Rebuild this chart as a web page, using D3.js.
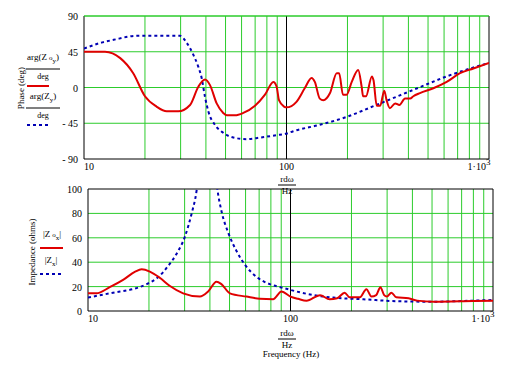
<!DOCTYPE html>
<html>
<head>
<meta charset="utf-8">
<script src="https://cdn.jsdelivr.net/npm/d3@7"></script>
<style>
  body { margin: 0; background: #fff; }
  svg { display: block; }
  text { font-family: "Liberation Serif", "Times New Roman", serif; fill: #000; }
</style>
</head>
<body>
<svg id="chart"></svg>
<script>
// chart data
var zoy_freq = [10, 12.7, 15.1, 17.5, 20, 22.8, 25.6, 29.2, 33.4, 36.7, 39.6, 41.9, 45.2, 48.7, 50.7, 55.7,
  61.2, 69.9, 78.3, 86.1, 89.4, 91.8, 97.2, 100, 112, 123, 133, 138, 146, 152, 164, 177, 182, 190, 198,
  210, 226, 235, 239, 247, 264, 269, 279, 290, 304, 312, 324, 344, 361, 385, 408, 423, 456, 531, 618,
  719, 837, 1000];
var zoy_phase = [45, 45, 37, 18, -11, -24, -30, -30, -22, 1, 10, 3, -20, -32, -35, -35,
  -32, -23, -9, 7, 1, -16, -24, -25, -18, -1, 12, 7, -14, -16, -7, 18, 18, -9, -9,
  7, 22, 1, -11, -11, 14, 9, -23, -23, -4, -16, -26, -20, -22, -14, -14, -11, -7, -1, 7,
  18, 24, 31];

var zy_freq = [10, 12, 14, 18.2, 29.8, 32.2, 34.7, 36.7, 38.1, 39.6, 41.1, 44.3, 48.7, 54.6, 63.6,
  74.2, 89.4, 100, 108, 146, 198, 290, 423, 618, 1000];
var zy_phase = [49, 56, 60, 65, 65, 56, 41, 26, 12, -12, -30, -47, -57, -63, -65,
  -63, -60, -58, -55, -47, -37, -20, -3, 14, 31];

var zox_freq = [10, 11, 12.8, 14.9, 17.1, 18.4, 20.2, 22.7, 25.4, 29.5, 35.7, 39.2, 43.1, 45.6, 50.2,
  60.6, 70.5, 82, 90.3, 100, 109, 120, 140, 156, 170, 185, 196, 220, 237, 251, 265, 278, 290, 299,
  315, 333, 383, 422, 509, 795, 1000];
var zox_mag = [14.5, 14.5, 19.5, 25.5, 32.3, 34.2, 32.3, 27, 20.5, 14.5, 11.8, 16, 24, 22, 14.5,
  11.8, 10, 9.7, 16, 11.8, 10, 8.5, 13, 9.6, 10.4, 15, 11.2, 11.2, 17.8, 11.8, 13, 19.5, 13, 11.8,
  15, 11.2, 10.4, 8.5, 7.6, 8.2, 8.5];

var zx_freq = [10, 13.3, 16.7, 19.5, 22.3, 24.9, 27.4, 30.1, 32.5, 34.4, 36.5, 38.5, 41, 43.6, 45.6,
  49.3, 54.2, 59.5, 67.9, 79, 91.9, 107, 130, 163, 229, 334, 509, 795, 1000];
var zx_mag = [11, 15, 18, 22, 28, 37, 47, 61, 80, 99, 140, 180, 140, 99, 82,
  64, 49, 38, 28, 22, 19, 16, 13, 11, 9.6, 8, 7.6, 8.5, 9];

var phase_ticks = [90, 45, 0, -45, -90];
var imp_ticks = [100, 80, 60, 40, 20, 0];
var freq_grid = [20, 30, 40, 50, 60, 70, 80, 90, 200, 300, 400, 500, 600, 700, 800, 900];

var red = '#e00000', blue = '#0000b4', green = '#2ccc2c';

var svg = d3.select('#chart').attr('width', 512).attr('height', 384);

// ---------- top panel: phase ----------
var x_top = d3.scaleLog().domain([10, 1000]).range([84, 489]);
var y_top = d3.scaleLinear().domain([-90, 90]).range([159, 16]);

// ---------- bottom panel: impedance ----------
var x_bot = d3.scaleLog().domain([10, 1000]).range([88, 493]);
var y_bot = d3.scaleLinear().domain([0, 100]).range([311, 189]);

function draw_panel(x, y, h_grid, y_ticks, id, top_green) {
  var g = svg.append('g');
  var x0 = x.range()[0], x1 = x.range()[1], y0 = y.range()[0], y1 = y.range()[1];

  g.selectAll('.vg').data(freq_grid).enter().append('line')
    .attr('x1', function(d) { return x(d); }).attr('x2', function(d) { return x(d); })
    .attr('y1', y0).attr('y2', y1)
    .attr('stroke', green).attr('stroke-width', 1);
  g.selectAll('.hg').data(h_grid).enter().append('line')
    .attr('x1', x0).attr('x2', x1)
    .attr('y1', function(d) { return y(d); }).attr('y2', function(d) { return y(d); })
    .attr('stroke', green).attr('stroke-width', 1);

  // marker at 100 Hz
  g.append('line').attr('x1', x(100)).attr('x2', x(100)).attr('y1', y0).attr('y2', y1)
    .attr('stroke', '#000').attr('stroke-width', 1);

  // frame
  g.append('line').attr('x1', x0).attr('x2', x0).attr('y1', y0).attr('y2', y1).attr('stroke', '#000');
  g.append('line').attr('x1', x1).attr('x2', x1).attr('y1', y0).attr('y2', y1).attr('stroke', '#000');
  g.append('line').attr('x1', x0).attr('x2', x1).attr('y1', y0).attr('y2', y0).attr('stroke', '#000');
  g.append('line').attr('x1', x0).attr('x2', x1).attr('y1', y1).attr('y2', y1)
    .attr('stroke', top_green ? green : '#000');

  // y tick labels
  g.selectAll('.yt').data(y_ticks).enter().append('text')
    .attr('x', x0 - 6).attr('y', function(d) { return y(d) + 4; })
    .attr('text-anchor', 'end').attr('font-size', 10)
    .text(function(d) { return d < 0 ? '- ' + (-d) : d; });

  // x tick labels
  g.append('text').attr('x', x(10) + 5).attr('y', y0 + 11).attr('text-anchor', 'middle')
    .attr('font-size', 10).text('10');
  g.append('text').attr('x', x(100)).attr('y', y0 + 11).attr('text-anchor', 'middle')
    .attr('font-size', 10).text('100');
  var t = g.append('text').attr('x', x(1000) - 10).attr('y', y0 + 11).attr('text-anchor', 'middle')
    .attr('font-size', 10);
  t.append('tspan').text('1\u00b710');
  t.append('tspan').attr('dy', -5).attr('font-size', 9).text('3');

  // clip
  svg.append('clipPath').attr('id', id).append('rect')
    .attr('x', x0).attr('y', y1).attr('width', x1 - x0).attr('height', y0 - y1);
  return g;
}

var top_g = draw_panel(x_top, y_top, [90, 45, 0, -45], phase_ticks, 'clip-top', true);
var bot_g = draw_panel(x_bot, y_bot, [20, 40, 60, 80], imp_ticks, 'clip-bot', false);

function add_curve(g, x, y, fx, fy, color, dashed, clip) {
  var line = d3.line()
    .x(function(d) { return x(d[0]); })
    .y(function(d) { return y(d[1]); })
    .curve(d3.curveMonotoneX);
  var pts = d3.zip(fx, fy);
  g.append('path').datum(pts)
    .attr('d', line)
    .attr('fill', 'none')
    .attr('stroke', color)
    .attr('stroke-width', 2)
    .attr('stroke-dasharray', dashed ? '3,3' : null)
    .attr('clip-path', 'url(#' + clip + ')');
}

add_curve(top_g, x_top, y_top, zy_freq, zy_phase, blue, true, 'clip-top');
add_curve(top_g, x_top, y_top, zoy_freq, zoy_phase, red, false, 'clip-top');
add_curve(bot_g, x_bot, y_bot, zx_freq, zx_mag, blue, true, 'clip-bot');
add_curve(bot_g, x_bot, y_bot, zox_freq, zox_mag, red, false, 'clip-bot');

// ---------- axis labels ----------
function freq_label(cx, y_top_text) {
  svg.append('text').attr('x', cx).attr('y', y_top_text).attr('text-anchor', 'middle')
    .attr('font-size', 9).text('rd\u03c9');
  svg.append('line').attr('x1', cx - 9).attr('x2', cx + 9)
    .attr('y1', y_top_text + 3).attr('y2', y_top_text + 3).attr('stroke', '#000');
  svg.append('text').attr('x', cx).attr('y', y_top_text + 12).attr('text-anchor', 'middle')
    .attr('font-size', 9).text('Hz');
}
freq_label(287, 182);
freq_label(287, 336);
svg.append('text').attr('x', 291).attr('y', 357).attr('text-anchor', 'middle')
  .attr('font-size', 9).text('Frequency (Hz)');

svg.append('text').attr('transform', 'translate(24,88) rotate(-90)')
  .attr('text-anchor', 'middle').attr('font-size', 9).text('Phase (deg)');
svg.append('text').attr('transform', 'translate(35,252) rotate(-90)')
  .attr('text-anchor', 'middle').attr('font-size', 9).text('Impedance (ohms)');

// legend, top
function arg_label(cx, y, sub_o) {
  var t = svg.append('text').attr('x', cx).attr('y', y).attr('text-anchor', 'middle').attr('font-size', 9);
  t.append('tspan').text('arg(Z');
  if (sub_o) t.append('tspan').attr('font-size', 7).attr('dx', 2).text('o');
  t.append('tspan').attr('font-size', 7).attr('dy', 3).text('y');
  t.append('tspan').attr('dy', -3).text(')');
  svg.append('line').attr('x1', cx - 17).attr('x2', cx + 17).attr('y1', y + 9).attr('y2', y + 9)
    .attr('stroke', '#000');
  svg.append('text').attr('x', cx).attr('y', y + 19).attr('text-anchor', 'middle')
    .attr('font-size', 8).text('deg');
}
arg_label(43, 60, true);
arg_label(43, 99, false);
svg.append('line').attr('x1', 27).attr('x2', 49).attr('y1', 86).attr('y2', 86)
  .attr('stroke', red).attr('stroke-width', 2);
svg.append('line').attr('x1', 27).attr('x2', 48).attr('y1', 125).attr('y2', 125)
  .attr('stroke', blue).attr('stroke-width', 2).attr('stroke-dasharray', '3,3');

// legend, bottom
function mag_label(cx, y, sub_o) {
  var t = svg.append('text').attr('x', cx).attr('y', y).attr('text-anchor', 'middle').attr('font-size', 9);
  t.append('tspan').text('|Z');
  if (sub_o) t.append('tspan').attr('font-size', 7).attr('dx', 2).text('o');
  t.append('tspan').attr('font-size', 7).attr('dy', 3).text('x');
  t.append('tspan').attr('dy', -3).text('|');
}
mag_label(52, 237, true);
mag_label(51, 263, false);
svg.append('line').attr('x1', 40).attr('x2', 63).attr('y1', 248).attr('y2', 248)
  .attr('stroke', red).attr('stroke-width', 2);
svg.append('line').attr('x1', 40).attr('x2', 62).attr('y1', 274).attr('y2', 274)
  .attr('stroke', blue).attr('stroke-width', 2).attr('stroke-dasharray', '3,3');
</script>
</body>
</html>
